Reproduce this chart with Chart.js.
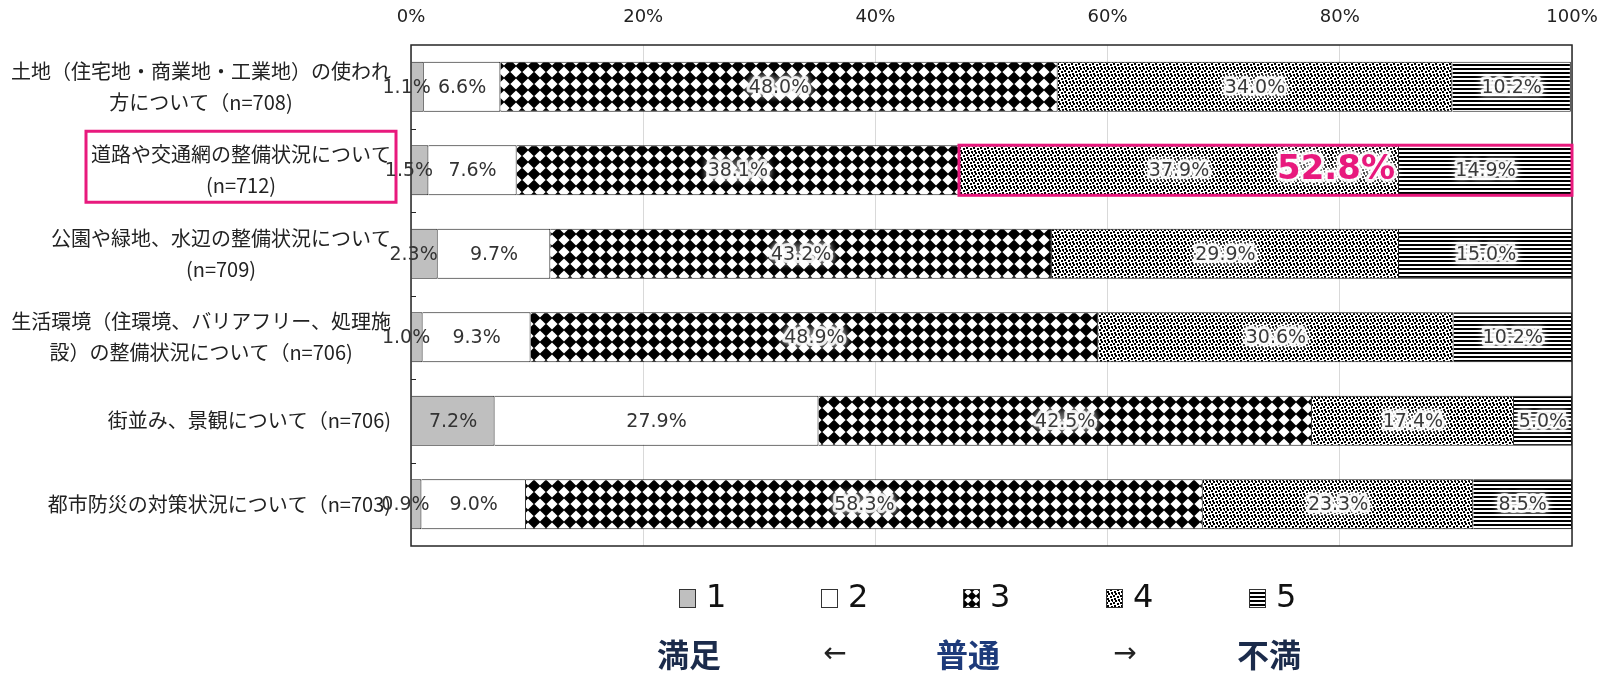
<!DOCTYPE html>
<html lang="ja">
<head>
<meta charset="utf-8">
<title>満足度</title>
<script src="https://cdn.jsdelivr.net/npm/chart.js@4.4.1/dist/chart.umd.min.js"></script>
<style>
  html, body { margin: 0; padding: 0; background: #fff; }
  #chart { display: block; }
</style>
</head>
<body>
<canvas id="chart" width="1606" height="677"></canvas>
<script>
// each category label is split into the lines it is drawn on
const categories = [
    ['土地（住宅地・商業地・工業地）の使われ', '方について（n=708)'],
    ['道路や交通網の整備状況について', '(n=712)'],
    ['公園や緑地、水辺の整備状況について', '(n=709)'],
    ['生活環境（住環境、バリアフリー、処理施', '設）の整備状況について（n=706)'],
    ['街並み、景観について（n=706)'],
    ['都市防災の対策状況について（n=703)']
];
const seriesNames = ['1', '2', '3', '4', '5'];
const s1 = [1.1, 1.5, 2.3, 1.0, 7.2, 0.9];
const s2 = [6.6, 7.6, 9.7, 9.3, 27.9, 9.0];
const s3 = [48.0, 38.1, 43.2, 48.9, 42.5, 58.3];
const s4 = [34.0, 37.9, 29.9, 30.6, 17.4, 23.3];
const s5 = [10.2, 14.9, 15.0, 10.2, 5.0, 8.5];
const xTicks = [0, 20, 40, 60, 80, 100];
const scaleWords = ['満足', '←', '普通', '→', '不満'];
// row whose 4+5 share is boxed
const focusRow = 1;

const pink = '#e8197d';
const navy = '#1b2b4b';

// ---- fill patterns ----
function tile(w, h, drawFn) {
    const c = document.createElement('canvas');
    c.width = w;
    c.height = h;
    const g = c.getContext('2d');
    g.fillStyle = '#fff';
    g.fillRect(0, 0, w, h);
    g.fillStyle = '#000';
    drawFn(g);
    return c;
}
function diamondTile(s) {
    return tile(s, s, (g) => {
        g.beginPath();
        g.moveTo(s / 2, -0.4);
        g.lineTo(s + 0.4, s / 2);
        g.lineTo(s / 2, s + 0.4);
        g.lineTo(-0.4, s / 2);
        g.closePath();
        g.fill();
    });
}
function dotTile() {
    return tile(7, 7, (g) => {
        [[0, 0], [4, 1], [1, 3], [5, 4], [2, 5], [6, 6]].forEach(([x, y]) => g.fillRect(x, y, 2, 2));
    });
}
function stripeTile() {
    return tile(4, 4, (g) => g.fillRect(0, 0, 4, 2));
}

const ctx = document.getElementById('chart');
const c2d = ctx.getContext('2d');
const fills = [
    '#bfbfbf',
    '#ffffff',
    c2d.createPattern(diamondTile(12), 'repeat'),
    c2d.createPattern(dotTile(), 'repeat'),
    c2d.createPattern(stripeTile(), 'repeat')
];
const legendFills = [
    '#bfbfbf',
    '#ffffff',
    c2d.createPattern(diamondTile(8), 'repeat'),
    c2d.createPattern(dotTile(), 'repeat'),
    c2d.createPattern(stripeTile(), 'repeat')
];
const values = [s1, s2, s3, s4, s5];

function haloText(g, text, x, y, color) {
    g.save();
    g.lineJoin = 'round';
    g.strokeStyle = 'rgba(255,255,255,0.85)';
    g.shadowColor = '#fff';
    g.shadowBlur = 6;
    g.lineWidth = 6;
    g.strokeText(text, x, y);
    g.shadowBlur = 0;
    g.fillStyle = color;
    g.fillText(text, x, y);
    g.restore();
}

const decor = {
    id: 'decor',
    afterDatasetsDraw(chart) {
        const g = chart.ctx;
        const area = chart.chartArea;
        const yScale = chart.scales.y;

        g.save();
        // plot frame
        g.strokeStyle = '#262626';
        g.lineWidth = 1.5;
        g.strokeRect(area.left, area.top, area.right - area.left, area.bottom - area.top);

        // short inner ticks between categories
        g.lineWidth = 1;
        const step = (area.bottom - area.top) / categories.length;
        for (let i = 1; i < categories.length; i++) {
            const ty = Math.round(area.top + step * i) + 0.5;
            g.beginPath();
            g.moveTo(area.left, ty);
            g.lineTo(area.left + 5, ty);
            g.stroke();
        }

        // category labels, lines centred within a right-aligned block
        g.font = '20px "Noto Sans CJK JP"';
        g.fillStyle = '#222';
        g.textBaseline = 'middle';
        g.textAlign = 'center';
        const right = area.left - 20;
        categories.forEach((lines, i) => {
            const cy = yScale.getPixelForValue(i);
            const w = Math.max(...lines.map((l) => g.measureText(l).width));
            const cx = right - w / 2;
            lines.forEach((l, k) => {
                g.fillText(l, cx, cy + (k - (lines.length - 1) / 2) * 31);
            });
            if (i === focusRow) {
                g.strokeStyle = pink;
                g.lineWidth = 3;
                g.strokeRect(right - w - 5, cy - 39, w + 10, 71);
            }
        });

        // value labels
        g.font = '19px "DejaVu Sans"';
        values.forEach((arr, di) => {
            const meta = chart.getDatasetMeta(di);
            meta.data.forEach((bar, i) => {
                const txt = arr[i].toFixed(1) + '%';
                let x = (bar.x + bar.base) / 2;
                const tw = g.measureText(txt).width;
                if (Math.abs(bar.x - bar.base) < tw) x -= 11;
                if (di < 2) {
                    g.fillStyle = '#333';
                    g.fillText(txt, x, bar.y + 1);
                } else {
                    haloText(g, txt, x, bar.y + 1, '#3a3a3a');
                }
            });
        });

        // box round the 4+5 share of the focus row
        const b4 = chart.getDatasetMeta(3).data[focusRow];
        const b5 = chart.getDatasetMeta(4).data[focusRow];
        const h = b4.height;
        g.strokeStyle = pink;
        g.lineWidth = 3;
        g.strokeRect(b4.base, b4.y - h / 2, b5.x - b4.base, h);
        const share = (s4[focusRow] + s5[focusRow]).toFixed(1) + '%';
        g.font = 'bold 34px "DejaVu Sans"';
        g.textAlign = 'right';
        haloText(g, share, b4.x - 4, b4.y, pink);

        // legend
        const legendX = [679, 821, 963, 1106, 1249];
        const legendY = 598;
        seriesNames.forEach((name, i) => {
            g.fillStyle = legendFills[i];
            g.fillRect(legendX[i], legendY - 9, 16, 18);
            g.strokeStyle = '#333';
            g.lineWidth = 1;
            g.strokeRect(legendX[i] + 0.5, legendY - 8.5, 16, 18);
            g.font = '32px "DejaVu Sans"';
            g.textAlign = 'left';
            g.fillStyle = '#111';
            g.fillText(name, legendX[i] + 27, legendY + 1);
        });

        // satisfaction scale under the legend
        const wordX = [689, 835, 968, 1125, 1269];
        scaleWords.forEach((w, i) => {
            const arrow = i % 2 === 1;
            g.font = arrow ? '28px "DejaVu Sans"' : 'bold 32px "Noto Sans CJK JP"';
            g.fillStyle = arrow ? '#222' : (i === 2 ? '#1d3a7a' : navy);
            g.textAlign = 'center';
            g.fillText(w, wordX[i], 655);
        });
        g.restore();
    }
};

new Chart(ctx, {
    type: 'bar',
    data: {
        labels: categories,
        datasets: seriesNames.map((name, i) => ({
            label: name,
            data: values[i],
            backgroundColor: fills[i],
            borderColor: '#1a1a1a',
            borderWidth: 1,
            barPercentage: 0.6,
            categoryPercentage: 1
        }))
    },
    options: {
        indexAxis: 'y',
        responsive: false,
        animation: false,
        devicePixelRatio: 1,
        layout: {
            padding: { left: 403, right: 34, top: 0, bottom: 131 }
        },
        scales: {
            x: {
                position: 'top',
                stacked: true,
                min: 0,
                max: 100,
                afterBuildTicks: (axis) => {
                    axis.ticks = xTicks.map((v) => ({ value: v }));
                },
                afterFit: (axis) => {
                    axis.height = 45;
                },
                ticks: {
                    callback: (v) => v + '%',
                    font: { family: 'DejaVu Sans', size: 18, lineHeight: 2.22 },
                    color: '#222',
                    padding: 8
                },
                grid: { color: '#d9d9d9', drawTicks: false },
                border: { display: false }
            },
            y: {
                stacked: true,
                ticks: { display: false },
                grid: { display: false },
                border: { display: false }
            }
        },
        plugins: {
            legend: { display: false },
            tooltip: { enabled: false }
        }
    },
    plugins: [decor]
});
</script>
</body>
</html>
